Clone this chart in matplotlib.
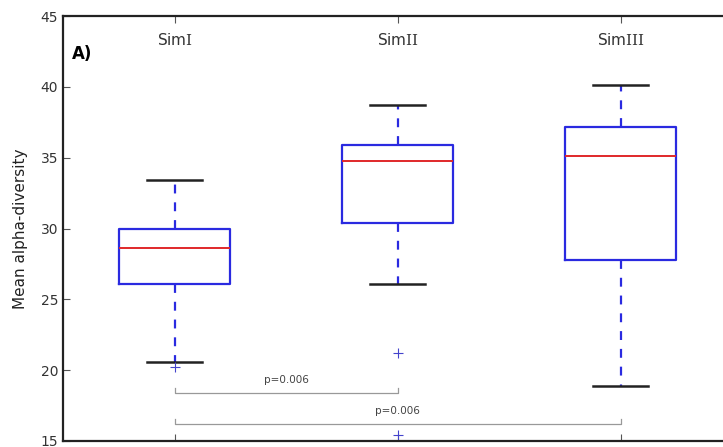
import matplotlib

matplotlib.use("Agg")

import matplotlib.pyplot as plt

plt.rcParams["mathtext.fontset"] = "dejavuserif"

# Summary statistics of mean alpha-diversity per simulation
labels = ["Sim$\\mathrm{I}$", "Sim$\\mathrm{II}$", "Sim$\\mathrm{III}$"]
q1 = [26.1, 30.4, 27.8]
medians = [28.6, 34.8, 35.1]
q3 = [30.0, 35.9, 37.2]
whislo = [20.6, 26.1, 18.9]
whishi = [33.4, 38.7, 40.1]
fliers = [[20.2], [21.2, 15.4], []]

# pairwise comparisons: (left box, right box, bracket height, p-value text)
pairs = [(1, 2, 18.4, "p=0.006"), (1, 3, 16.2, "p=0.006")]

positions = [1, 2, 3]

stats = []
for i, lab in enumerate(labels):
    stats.append(
        {
            "label": lab,
            "q1": q1[i],
            "med": medians[i],
            "q3": q3[i],
            "whislo": whislo[i],
            "whishi": whishi[i],
            "fliers": fliers[i],
        }
    )

fig = plt.figure(figsize=(7.23, 4.47), dpi=100)
ax = fig.add_axes([63 / 723, 6 / 447, 669 / 723, 425 / 447])

ax.bxp(
    stats,
    positions=positions,
    widths=0.5,
    boxprops=dict(color="#2a2ae0", linewidth=1.6),
    medianprops=dict(color="#e0282a", linewidth=1.4),
    whiskerprops=dict(color="#2a2ae0", linewidth=1.6, linestyle=(0, (4, 4))),
    capprops=dict(color="#222222", linewidth=1.8),
    flierprops=dict(marker="+", markeredgecolor="#4444cc", markersize=7,
                    markeredgewidth=0.8),
)

ax.set_xlim(0.5, 3.5)
ax.set_ylim(15, 45)
ax.set_yticks([15, 20, 25, 30, 35, 40, 45])

ax.set_xticks(positions)
ax.set_xticklabels([])
ax.tick_params(axis="x", direction="in", top=True, bottom=True, length=5,
               color="#555555")
ax.tick_params(axis="y", direction="in", left=True, right=True, length=5,
               labelsize=10, labelcolor="#333333", color="#555555")

for lab, p in zip(labels, positions):
    ax.text(p, 43.3, lab, ha="center", va="center", fontsize=11,
            color="#333333")

ax.text(0.54, 42.3, "A)", fontsize=12, fontweight="bold", va="center")

for a, b, h, txt in pairs:
    ax.plot([a, a, b, b], [h + 0.35, h, h, h + 0.35], color="#999999",
            linewidth=0.9)
    ax.text((a + b) / 2, h + 0.55, txt, ha="center", va="bottom", fontsize=7.5,
            color="#444444")

for side in ax.spines.values():
    side.set_linewidth(1.6)
    side.set_color("#222222")

ax.set_ylabel("Mean alpha-diversity", fontsize=11, color="#222222", labelpad=9)

fig.savefig("out.png", dpi=100)
